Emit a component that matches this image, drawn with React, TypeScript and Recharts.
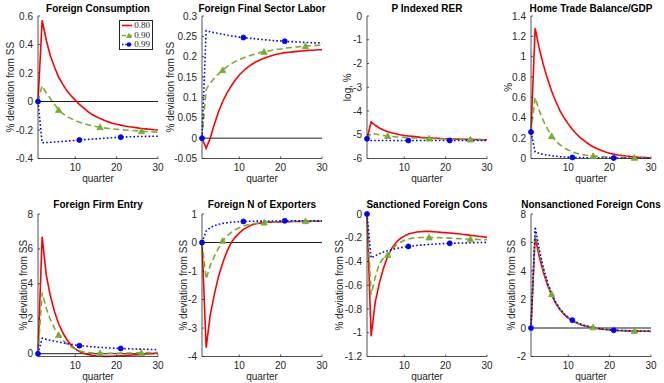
import React from 'react'
import { LineChart, Line, XAxis, YAxis, ReferenceLine, Legend } from 'recharts'

const quarters = [1, 2, 3, 4, 5, 6, 7, 8, 9, 10, 11, 12, 13, 14, 15, 16, 17, 18, 19, 20, 21, 22, 23, 24, 25, 26, 27, 28, 29, 30]
const quarterTicks = [10, 20, 30]
const seriesLabels = ['0.80', '0.90', '0.99']

// Foreign Consumption
const consRed = [0, 0.57, 0.43, 0.32, 0.24, 0.17, 0.12, 0.075, 0.04, 0.01, -0.02, -0.045, -0.07, -0.09, -0.105, -0.12, -0.132, -0.143, -0.152, -0.16, -0.166, -0.172, -0.177, -0.181, -0.185, -0.189, -0.192, -0.195, -0.198, -0.2]
const consGreen = [0, 0.11, 0.06, 0.02, -0.02, -0.06, -0.085, -0.105, -0.12, -0.135, -0.145, -0.155, -0.163, -0.17, -0.176, -0.18, -0.185, -0.189, -0.192, -0.195, -0.198, -0.2, -0.202, -0.204, -0.206, -0.208, -0.21, -0.212, -0.214, -0.215]
const consBlue = [0, -0.29, -0.288, -0.286, -0.284, -0.282, -0.28, -0.278, -0.275, -0.273, -0.27, -0.268, -0.266, -0.264, -0.262, -0.26, -0.258, -0.256, -0.254, -0.252, -0.25, -0.249, -0.248, -0.247, -0.246, -0.246, -0.245, -0.245, -0.244, -0.244]

// Foreign Final Sector Labor
const laborRed = [0, -0.025, 0, 0.035, 0.065, 0.09, 0.11, 0.127, 0.142, 0.155, 0.165, 0.174, 0.181, 0.187, 0.192, 0.196, 0.2, 0.203, 0.206, 0.208, 0.21, 0.211, 0.212, 0.213, 0.214, 0.215, 0.216, 0.216, 0.217, 0.217]
const laborGreen = [0, 0.12, 0.135, 0.148, 0.158, 0.167, 0.175, 0.182, 0.188, 0.193, 0.197, 0.201, 0.204, 0.207, 0.21, 0.212, 0.214, 0.216, 0.218, 0.219, 0.221, 0.222, 0.223, 0.224, 0.225, 0.226, 0.227, 0.227, 0.228, 0.228]
const laborBlue = [0, 0.264, 0.261, 0.259, 0.257, 0.255, 0.253, 0.251, 0.25, 0.248, 0.247, 0.246, 0.245, 0.244, 0.243, 0.242, 0.241, 0.24, 0.239, 0.239, 0.238, 0.237, 0.237, 0.236, 0.236, 0.235, 0.235, 0.234, 0.234, 0.234]

// P Indexed RER
const rerRed = [-5.17, -4.46, -4.6, -4.72, -4.8, -4.87, -4.92, -4.96, -5.0, -5.03, -5.05, -5.07, -5.09, -5.11, -5.12, -5.13, -5.14, -5.15, -5.16, -5.17, -5.175, -5.18, -5.185, -5.19, -5.195, -5.2, -5.2, -5.205, -5.21, -5.21]
const rerGreen = [-5.17, -4.93, -4.97, -5.0, -5.03, -5.05, -5.07, -5.09, -5.1, -5.11, -5.12, -5.13, -5.14, -5.145, -5.15, -5.155, -5.16, -5.165, -5.17, -5.175, -5.18, -5.185, -5.19, -5.19, -5.195, -5.2, -5.2, -5.2, -5.205, -5.205]
const rerBlue = [-5.17, -5.245, -5.245, -5.245, -5.244, -5.244, -5.243, -5.243, -5.242, -5.242, -5.242, -5.241, -5.241, -5.241, -5.241, -5.24, -5.24, -5.24, -5.24, -5.24, -5.24, -5.24, -5.24, -5.24, -5.24, -5.24, -5.24, -5.24, -5.24, -5.24]

// Home Trade Balance/GDP
const tradeRed = [0.26, 1.28, 1.08, 0.92, 0.78, 0.66, 0.56, 0.47, 0.4, 0.34, 0.285, 0.24, 0.2, 0.17, 0.14, 0.115, 0.095, 0.078, 0.064, 0.052, 0.043, 0.035, 0.029, 0.024, 0.02, 0.016, 0.013, 0.011, 0.009, 0.008]
const tradeGreen = [0.26, 0.6, 0.47, 0.37, 0.29, 0.22, 0.17, 0.135, 0.105, 0.083, 0.065, 0.052, 0.042, 0.034, 0.029, 0.025, 0.021, 0.018, 0.016, 0.014, 0.012, 0.011, 0.01, 0.009, 0.008, 0.007, 0.006, 0.006, 0.005, 0.005]
const tradeBlue = [0.26, 0.065, 0.05, 0.04, 0.033, 0.027, 0.022, 0.018, 0.015, 0.013, 0.011, 0.01, 0.009, 0.008, 0.007, 0.006, 0.006, 0.005, 0.005, 0.005, 0.004, 0.004, 0.004, 0.004, 0.003, 0.003, 0.003, 0.003, 0.003, 0.003]

// Foreign Firm Entry
const entryRed = [0, 6.7, 4.5, 3.3, 2.4, 1.7, 1.2, 0.8, 0.48, 0.28, 0.12, 0.02, -0.04, -0.09, -0.12, -0.14, -0.15, -0.15, -0.145, -0.135, -0.12, -0.105, -0.09, -0.07, -0.05, -0.035, -0.02, 0, 0.02, 0.04]
const entryGreen = [0, 3.5, 2.6, 1.95, 1.45, 1.07, 0.78, 0.56, 0.4, 0.27, 0.17, 0.1, 0.07, 0.05, 0.04, 0.03, 0.03, 0.03, 0.03, 0.03, 0.035, 0.04, 0.04, 0.045, 0.05, 0.05, 0.055, 0.06, 0.06, 0.065]
const entryBlue = [0, 0.88, 0.82, 0.77, 0.72, 0.67, 0.62, 0.58, 0.54, 0.5, 0.46, 0.44, 0.42, 0.4, 0.38, 0.36, 0.35, 0.33, 0.32, 0.31, 0.3, 0.29, 0.28, 0.27, 0.265, 0.26, 0.25, 0.245, 0.24, 0.235]

// Foreign N of Exporters
const exportRed = [0, -3.69, -2.54, -1.81, -1.19, -0.72, -0.32, -0.02, 0.18, 0.33, 0.46, 0.54, 0.61, 0.66, 0.68, 0.7, 0.71, 0.715, 0.72, 0.725, 0.73, 0.73, 0.735, 0.735, 0.74, 0.74, 0.74, 0.745, 0.745, 0.745]
const exportGreen = [0, -1.28, -0.8, -0.48, -0.2, 0.06, 0.22, 0.35, 0.45, 0.52, 0.58, 0.62, 0.65, 0.67, 0.69, 0.7, 0.71, 0.72, 0.73, 0.73, 0.74, 0.74, 0.745, 0.745, 0.75, 0.75, 0.75, 0.75, 0.755, 0.755]
const exportBlue = [0, 0.4, 0.52, 0.59, 0.64, 0.67, 0.69, 0.71, 0.72, 0.73, 0.74, 0.742, 0.745, 0.748, 0.75, 0.752, 0.754, 0.756, 0.757, 0.758, 0.76, 0.76, 0.76, 0.76, 0.76, 0.76, 0.76, 0.76, 0.76, 0.76]

// Sanctioned Foreign Cons
const sancRed = [0, -1.03, -0.74, -0.58, -0.455, -0.357, -0.287, -0.242, -0.208, -0.186, -0.169, -0.16, -0.152, -0.149, -0.146, -0.146, -0.149, -0.152, -0.155, -0.157, -0.16, -0.163, -0.166, -0.171, -0.174, -0.18, -0.183, -0.188, -0.191, -0.197]
const sancGreen = [0, -0.68, -0.53, -0.42, -0.37, -0.345, -0.3, -0.265, -0.24, -0.222, -0.21, -0.203, -0.2, -0.198, -0.197, -0.197, -0.198, -0.199, -0.2, -0.201, -0.203, -0.205, -0.207, -0.209, -0.211, -0.213, -0.214, -0.215, -0.216, -0.217]
const sancBlue = [0, -0.37, -0.35, -0.335, -0.32, -0.31, -0.3, -0.292, -0.285, -0.278, -0.273, -0.269, -0.265, -0.262, -0.259, -0.256, -0.254, -0.252, -0.25, -0.248, -0.247, -0.246, -0.245, -0.244, -0.243, -0.242, -0.241, -0.24, -0.24, -0.239]

// Nonsanctioned Foreign Cons
const nonsRed = [0, 6.4, 5.0, 3.9, 3.0, 2.3, 1.72, 1.28, 0.95, 0.7, 0.5, 0.35, 0.23, 0.14, 0.07, 0.01, -0.04, -0.08, -0.11, -0.14, -0.16, -0.18, -0.19, -0.2, -0.21, -0.22, -0.22, -0.23, -0.23, -0.24]
const nonsGreen = [0, 6.8, 5.3, 4.1, 3.15, 2.38, 1.8, 1.35, 1.0, 0.74, 0.54, 0.39, 0.27, 0.17, 0.1, 0.05, 0, -0.04, -0.08, -0.11, -0.14, -0.16, -0.17, -0.18, -0.19, -0.2, -0.2, -0.21, -0.21, -0.21]
const nonsBlue = [0, 7.1, 5.5, 4.2, 3.2, 2.4, 1.8, 1.35, 1.0, 0.75, 0.55, 0.4, 0.28, 0.18, 0.1, 0.04, -0.01, -0.06, -0.1, -0.13, -0.16, -0.17, -0.18, -0.19, -0.2, -0.2, -0.21, -0.21, -0.21, -0.22]

const RED = '#ff0000'
const GREEN = '#77ac30'
const BLUE = '#0000ff'
const AXIS = '#262626'
const FONT = '"Liberation Sans", Arial, Helvetica, sans-serif'

const PLOT_LEFT = [38, 202, 367, 531]
const ROW_TOP = [16, 214]
const TITLE_Y = [7.5, 6]
const PLOT_W = 120
const PLOT_H = 142.5
const AXIS_W = 38
const X_AXIS_H = 30
const CHART_W = 170
const CHART_H = 190

interface PanelDef {
  title: string
  yLabel: string
  domain: [number, number]
  ticks: number[]
  red: number[]
  green: number[]
  blue: number[]
  zero: boolean
  labelGap: number
}

const panels: PanelDef[] = [
  { title: 'Foreign Consumption', yLabel: '% deviation from SS', domain: [-0.4, 0.6], ticks: [-0.4, -0.2, 0, 0.2, 0.4, 0.6], red: consRed, green: consGreen, blue: consBlue, zero: true, labelGap: 28 },
  { title: 'Foreign Final Sector Labor', yLabel: '% deviation from SS', domain: [-0.05, 0.3], ticks: [-0.05, 0, 0.05, 0.1, 0.15, 0.2, 0.25, 0.3], red: laborRed, green: laborGreen, blue: laborBlue, zero: true, labelGap: 32 },
  { title: 'P Indexed RER', yLabel: 'log, %', domain: [-6, 0], ticks: [-6, -5, -4, -3, -2, -1, 0], red: rerRed, green: rerGreen, blue: rerBlue, zero: false, labelGap: 20 },
  { title: 'Home Trade Balance/GDP', yLabel: '%', domain: [0, 1.4], ticks: [0, 0.2, 0.4, 0.6, 0.8, 1, 1.2, 1.4], red: tradeRed, green: tradeGreen, blue: tradeBlue, zero: false, labelGap: 23 },
  { title: 'Foreign Firm Entry', yLabel: '% deviation from SS', domain: [-0.16, 8], ticks: [0, 2, 4, 6, 8], red: entryRed, green: entryGreen, blue: entryBlue, zero: true, labelGap: 15 },
  { title: 'Foreign N of Exporters', yLabel: '% deviation from SS', domain: [-4, 1], ticks: [-4, -3, -2, -1, 0, 1], red: exportRed, green: exportGreen, blue: exportBlue, zero: true, labelGap: 19 },
  { title: 'Sanctioned Foreign Cons', yLabel: '% deviation from SS', domain: [-1.2, 0], ticks: [-1.2, -1, -0.8, -0.6, -0.4, -0.2, 0], red: sancRed, green: sancGreen, blue: sancBlue, zero: false, labelGap: 28 },
  { title: 'Nonsanctioned Foreign Cons', yLabel: '% deviation from SS', domain: [-2, 8], ticks: [-2, 0, 2, 4, 6, 8], red: nonsRed, green: nonsGreen, blue: nonsBlue, zero: true, labelGap: 20 },
]

const tickStyle = { fill: AXIS, fontSize: 10, fontFamily: FONT }
const noTick = () => null

const circleMarks = [0, 10, 20]
const triangleMarks = [5, 15, 25]

const CircleDot = (props: any) => {
  const { cx, cy, index } = props
  if (!circleMarks.includes(index) || cx == null) return <g key={`c${index}`} />
  return <circle key={`c${index}`} cx={cx} cy={cy} r={2.5} fill={BLUE} stroke={BLUE} strokeWidth={0.8} />
}

const TriangleDot = (props: any) => {
  const { cx, cy, index } = props
  if (!triangleMarks.includes(index) || cx == null) return <g key={`t${index}`} />
  const s = 3.2
  return <polygon key={`t${index}`} points={`${cx},${cy - s} ${cx - s},${cy + s * 0.8} ${cx + s},${cy + s * 0.8}`} fill={GREEN} stroke={GREEN} strokeWidth={0.8} />
}

const LegendBox = () => {
  const rows = [
    <svg width={14} height={7}><line x1={0} y1={3.5} x2={14} y2={3.5} stroke={RED} strokeWidth={1.6} /></svg>,
    <svg width={14} height={7}>
      <line x1={0} y1={3.5} x2={14} y2={3.5} stroke={GREEN} strokeWidth={1.6} strokeDasharray="4 2" />
      <polygon points="7,0.5 4,6 10,6" fill={GREEN} />
    </svg>,
    <svg width={14} height={7}>
      <line x1={0} y1={3.5} x2={14} y2={3.5} stroke={BLUE} strokeWidth={1.6} strokeDasharray="1.5 1.8" />
      <circle cx={7} cy={3.5} r={2.3} fill={BLUE} />
    </svg>,
  ]
  return (
    <div style={{ border: `0.8px solid ${AXIS}`, background: '#fff', padding: '0 2px 0 2px', width: 34, boxSizing: 'border-box' }}>
      {seriesLabels.map((lab, i) => (
        <div key={lab} style={{ display: 'flex', alignItems: 'center', height: 9.4 }}>
          {rows[i]}
          <span style={{ fontFamily: '"Liberation Serif", "Times New Roman", serif', fontSize: 9, marginLeft: 2, color: AXIS, lineHeight: '9px' }}>{lab}</span>
        </div>
      ))}
    </div>
  )
}

function Panel({ p, col, row, legend }: { p: PanelDef; col: number; row: number; legend: boolean }) {
  const data = quarters.map((q, i) => ({ q, r: p.red[i], g: p.green[i], b: p.blue[i] }))
  const left = PLOT_LEFT[col] - AXIS_W
  const top = ROW_TOP[row] - 16
  return (
    <div style={{ position: 'absolute', left, top, width: CHART_W, height: CHART_H }}>
      <LineChart
        width={CHART_W}
        height={CHART_H}
        data={data}
        margin={{ top: 16, right: CHART_W - AXIS_W - PLOT_W, bottom: CHART_H - 16 - PLOT_H - X_AXIS_H, left: 0 }}
      >
        <XAxis
          dataKey="q"
          type="number"
          domain={[1, 30]}
          ticks={quarterTicks}
          interval={0}
          height={X_AXIS_H}
          stroke={AXIS}
          strokeWidth={0.8}
          tickSize={-2}
          tickMargin={7}
          tick={tickStyle}
          label={(lp: any) => {
            const vb = lp.viewBox
            return (
              <text x={vb.x + vb.width / 2} y={vb.y + 23.5} textAnchor="middle" fill={AXIS} fontSize={10} fontFamily={FONT}>
                quarter
              </text>
            )
          }}
        />
        <XAxis xAxisId="top" orientation="top" dataKey="q" type="number" domain={[1, 30]} ticks={quarterTicks} interval={0} height={0} stroke={AXIS} strokeWidth={0.8} tickSize={-2} tick={noTick} allowDataOverflow />
        <YAxis
          type="number"
          domain={p.domain}
          ticks={p.ticks}
          interval={0}
          width={AXIS_W}
          stroke={AXIS}
          strokeWidth={0.8}
          tickSize={-2}
          tickMargin={7}
          tick={tickStyle}
          label={(lp: any) => {
            const vb = lp.viewBox
            const x = vb.x + vb.width - p.labelGap
            const y = vb.y + vb.height / 2
            return (
              <text x={x} y={y} transform={`rotate(-90, ${x}, ${y})`} textAnchor="middle" dominantBaseline="central" fill={AXIS} fontSize={10} fontFamily={FONT}>
                {p.yLabel}
              </text>
            )
          }}
        />
        <YAxis yAxisId="r" orientation="right" type="number" domain={p.domain} ticks={p.ticks} interval={0} width={0} stroke={AXIS} strokeWidth={0.8} tickSize={-2} tick={noTick} allowDataOverflow />
        {p.zero && <ReferenceLine y={0} stroke="#000" strokeWidth={0.9} />}
        <Line type="linear" dataKey="r" stroke={RED} strokeWidth={1.6} dot={false} activeDot={false} isAnimationActive={false} />
        <Line type="linear" dataKey="g" stroke={GREEN} strokeWidth={1.6} strokeDasharray="6 3.5" dot={TriangleDot} activeDot={false} isAnimationActive={false} />
        <Line type="linear" dataKey="b" stroke={BLUE} strokeWidth={1.6} strokeDasharray="1.6 2.2" dot={CircleDot} activeDot={false} isAnimationActive={false} />
        {legend && (
          <Legend
            layout="vertical"
            verticalAlign="middle"
            align="center"
            content={LegendBox}
            wrapperStyle={{ left: 119, top: 20, width: 'auto', height: 'auto' }}
          />
        )}
      </LineChart>
      <div
        style={{
          position: 'absolute',
          left: AXIS_W + PLOT_W / 2,
          top: TITLE_Y[row],
          transform: 'translate(-50%, -50%)',
          whiteSpace: 'nowrap',
          fontFamily: FONT,
          fontWeight: 'bold',
          fontSize: 10,
          lineHeight: '9px',
          color: '#000',
        }}
      >
        {p.title}
      </div>
    </div>
  )
}

export default function App() {
  return (
    <div style={{ position: 'absolute', left: 0, top: 0, width: 664, height: 383, background: '#fff', overflow: 'hidden' }}>
      {panels.map((p, i) => (
        <Panel key={p.title} p={p} col={i % 4} row={Math.floor(i / 4)} legend={i === 0} />
      ))}
    </div>
  )
}
